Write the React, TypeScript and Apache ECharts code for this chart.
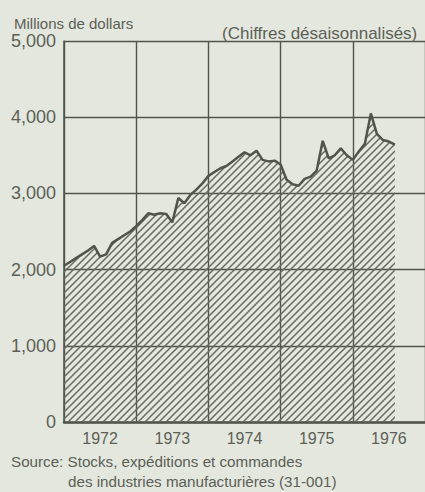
import React, { useEffect, useRef } from "react";
import * as echarts from "echarts";

const YEARS = ["1972", "1973", "1974", "1975", "1976"];
const Y_TICKS = [0, 1000, 2000, 3000, 4000, 5000];
// Monthly values from January 1972 (millions of dollars, seasonally adjusted)
const VALUES = [
  2050, 2100, 2150, 2200, 2250, 2310, 2170, 2200, 2350, 2400, 2450, 2500,
  2570, 2650, 2740, 2720, 2740, 2730, 2620, 2940, 2870, 2980, 3050, 3130,
  3230, 3280, 3330, 3360, 3420, 3480, 3540, 3500, 3560, 3440, 3420, 3430,
  3380, 3180, 3120, 3100, 3190, 3220, 3300, 3690, 3460, 3500, 3590, 3500,
  3440, 3550, 3650, 4050, 3780, 3700, 3680, 3640,
];

const INK = "#50544a";
const TXT = "#5c6056";
const BG = "#e3e7de";
const FONT = "Liberation Sans, Arial, sans-serif";

const hatchSvg =
  "data:image/svg+xml;charset=utf-8," +
  encodeURIComponent(
    `<svg xmlns="http://www.w3.org/2000/svg" width="7" height="7"><path d="M-1,8 L8,-1 M-1,1 L1,-1 M6,8 L8,6" stroke="#666a5f" stroke-width="1.5"/></svg>`
  );

export default function App() {
  const ref = useRef<HTMLDivElement>(null);
  useEffect(() => {
    if (!ref.current) return;
    const chart = echarts.init(ref.current, null, { renderer: "svg" });
    const img = new Image();
    img.src = hatchSvg;
    chart.setOption({
      animation: false,
      backgroundColor: BG,
      textStyle: { fontFamily: FONT },
      grid: { left: 64, top: 41, right: -6.5, bottom: 70 },
      title: [
        {
          text: "Millions de dollars",
          left: 9,
          top: 11,
          textStyle: { fontSize: 15, fontWeight: "normal", color: TXT, fontFamily: FONT },
        },
        {
          text: "(Chiffres désaisonnalisés)",
          left: 217,
          top: 20,
          textStyle: { fontSize: 17, fontWeight: "normal", color: TXT, fontFamily: FONT },
        },
      ],
      graphic: [
        {
          type: "text",
          left: 11,
          top: 454,
          style: {
            text: "Source: Stocks, expéditions et commandes",
            font: `15.2px ${FONT}`,
            fill: TXT,
          },
        },
        {
          type: "text",
          left: 68,
          top: 474,
          style: {
            text: "des industries manufacturières (31-001)",
            font: `15.2px ${FONT}`,
            fill: TXT,
          },
        },
      ],
      xAxis: [
        {
          type: "value",
          min: 0,
          max: 60,
          interval: 12,
          axisLine: { show: true, lineStyle: { color: INK, width: 2.5 } },
          axisTick: { show: false },
          axisLabel: { show: false },
          splitLine: { show: true, lineStyle: { color: INK, width: 1.4 } },
        },
        {
          type: "category",
          position: "bottom",
          data: YEARS,
          boundaryGap: true,
          axisLine: { show: false },
          axisTick: { show: false },
          splitLine: { show: false },
          axisLabel: {
            show: true,
            margin: 8,
            fontSize: 16,
            color: TXT,
            fontFamily: FONT,
          },
        },
      ],
      yAxis: {
        type: "value",
        min: 0,
        max: 5000,
        interval: 1000,
        axisLine: { show: true, lineStyle: { color: INK, width: 1.5 } },
        axisTick: { show: false },
        axisLabel: {
          fontSize: 18,
          color: TXT,
          margin: 8,
          fontFamily: FONT,
          formatter: (v: number) =>
            Y_TICKS.includes(v) ? v.toLocaleString("en-US") : "",
        },
        splitLine: { show: true, lineStyle: { color: INK, width: 1.4 } },
      },
      series: [
        {
          type: "line",
          xAxisIndex: 0,
          data: VALUES.map((v, i) => [i, v]),
          symbol: "none",
          lineStyle: { color: INK, width: 2.5 },
          areaStyle: { color: { image: img, repeat: "repeat" }, opacity: 1 },
        },
      ],
    });
    img.onload = () => chart.resize();
    return () => chart.dispose();
  }, []);
  return (
    <div
      ref={ref}
      style={{ position: "absolute", left: 0, top: 0, width: 425, height: 492 }}
    />
  );
}
